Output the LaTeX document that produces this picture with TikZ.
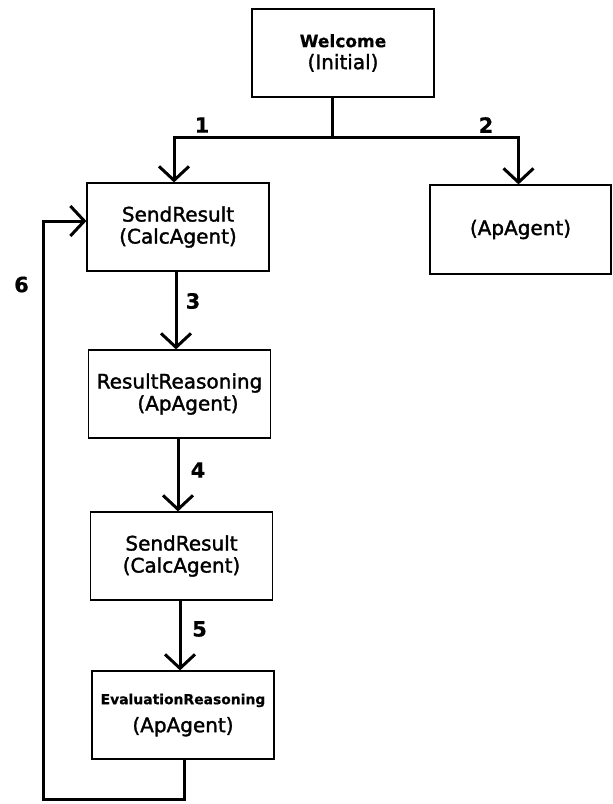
\documentclass[tikz,border=0pt]{standalone}
\usepackage{fontspec}
\setmainfont{DejaVu Sans}[FakeBold=1.6, BoldFeatures={FakeBold=0.6}]
\usetikzlibrary{arrows.meta}
\begin{document}
\begin{tikzpicture}[x=1pt,y=-1pt,
  box/.style={draw, line width=1.2pt, minimum width=182pt, minimum height=88pt,
    inner sep=0pt, align=center, font=\fontsize{20}{22}\selectfont},
  wire/.style={line width=3pt},
  link/.style={wire, -{Straight Barb[length=14pt,width=30pt]}},
  lbl/.style={font=\bfseries\fontsize{21}{22}\selectfont, inner sep=0pt}
]
\useasboundingbox (0,0) rectangle (613,804);

% states
\node[box] (wel) at (343,53)
  {\textbf{\fontsize{17}{22}\selectfont Welcome}\\(Initial)};
\node[box] (s1) at (178,227) {SendResult\\(CalcAgent)};
\node[box, minimum width=181pt, minimum height=89pt] (ap) at (520.5,229.5) {(ApAgent)};
\node[box] (rr) at (179.5,394) {ResultReasoning\\\hspace*{17pt}(ApAgent)};
\node[box] (s2) at (181.5,556) {SendResult\\(CalcAgent)};
\node[box] (ev) at (183,715)
  {\textbf{\fontsize{13.9}{16}\selectfont EvaluationReasoning}\\[6pt](ApAgent)};

% branch from the initial state
\coordinate (br) at (332,137);
\draw[wire] (wel.south -| br) -- (br);
\draw[link] (br) -| ([xshift=-4pt]s1.north);
\draw[link] (br) -| ([xshift=-2pt]ap.north);

% main sequence
\draw[link] ([xshift=-2pt]s1.south) -- ([xshift=-2pt]s1.south |- rr.north);
\draw[link] ([xshift=-1.5pt]rr.south) -- ([xshift=-1.5pt]rr.south |- s2.north);
\draw[link] ([xshift=-1.5pt]s2.south) -- ([xshift=-1.5pt]s2.south |- ev.north);

% loop back
\coordinate (lp) at (43,799);
\draw[link] ([xshift=1pt]ev.south) |- (lp) |- ([yshift=6pt]s1.west);

% transition numbers
\node[lbl] (n1) at (202,125) {1};
\node[lbl] (n2) at (486,125) {2};
\node[lbl] (n3) at (193,301) {3};
\node[lbl] (n4) at (198,470) {4};
\node[lbl] (n5) at (199.5,629) {5};
\node[lbl] (n6) at (21.5,284.5) {6};
\end{tikzpicture}
\end{document}
